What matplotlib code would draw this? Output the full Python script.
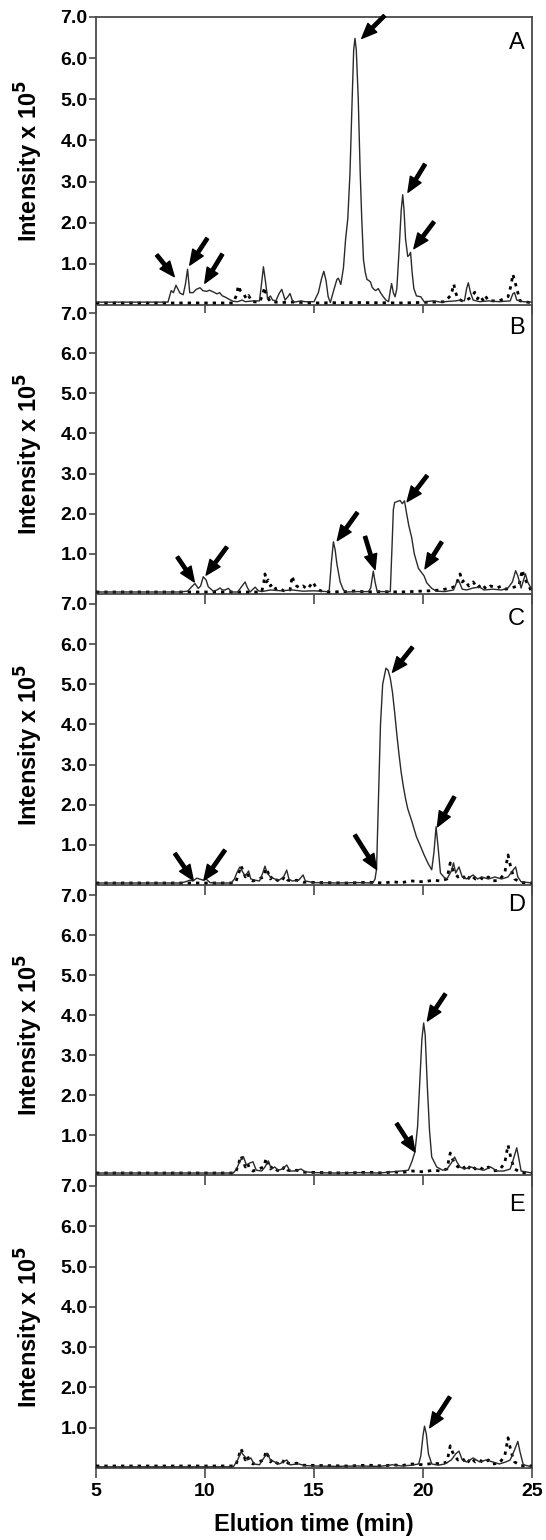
import matplotlib
matplotlib.use("Agg")
import matplotlib.pyplot as plt

plt.rcParams['font.family'] = ['Liberation Sans', 'DejaVu Sans']

# ---------------- data ----------------
panel_labels = ["A", "B", "C", "D", "E"]
x_ticks = [5, 10, 15, 20, 25]
y_ticks = [1.0, 2.0, 3.0, 4.0, 5.0, 6.0, 7.0]

a_t = [5.0, 8.3, 8.45, 8.55, 8.67, 8.85, 9.0, 9.1, 9.2, 9.3, 9.45, 9.6, 9.77, 9.9, 10.08, 10.2, 10.37, 10.55,
       10.67, 10.8, 10.9, 11.1, 11.29, 11.5, 11.7, 11.85, 12.2, 12.5, 12.6, 12.68, 12.78, 12.87, 13.0, 13.1,
       13.25, 13.4, 13.52, 13.6, 13.67, 13.8, 13.9, 14.0, 14.1, 14.4, 14.6, 15.0, 15.2, 15.35, 15.45, 15.55,
       15.65, 15.75, 15.9, 16.05, 16.12, 16.23, 16.35, 16.45, 16.55, 16.65, 16.75, 16.82, 16.88, 16.94, 17.03,
       17.12, 17.19, 17.27, 17.35, 17.43, 17.5, 17.59, 17.67, 17.75, 17.83, 17.95, 18.05, 18.15, 18.3, 18.42,
       18.5, 18.56, 18.64, 18.72, 18.8, 18.9, 19.0, 19.07, 19.13, 19.2, 19.3, 19.38, 19.43, 19.5, 19.58, 19.7,
       19.9, 20.05, 20.5, 20.8, 21.2, 21.5, 21.7, 21.9, 22.0, 22.08, 22.18, 22.3, 22.6, 23.0, 23.5, 24.0, 24.12,
       24.2, 24.3, 24.6, 25.0]
a_v = [0.07, 0.07, 0.35, 0.30, 0.48, 0.29, 0.25, 0.50, 0.87, 0.30, 0.30, 0.38, 0.42, 0.35, 0.33, 0.36, 0.32, 0.27,
       0.30, 0.22, 0.20, 0.14, 0.09, 0.08, 0.12, 0.08, 0.10, 0.10, 0.55, 0.93, 0.55, 0.15, 0.22, 0.12,
       0.10, 0.28, 0.38, 0.25, 0.12, 0.20, 0.28, 0.12, 0.07, 0.10, 0.08, 0.08, 0.30, 0.65, 0.82, 0.60,
       0.20, 0.06, 0.35, 0.62, 0.65, 0.50, 0.90, 1.60, 2.10, 3.20, 5.00, 6.20, 6.48, 6.20, 5.00,
       3.20, 2.10, 1.10, 0.80, 0.62, 0.60, 0.56, 0.43, 0.38, 0.35, 0.40, 0.30, 0.22, 0.12, 0.08,
       0.35, 0.52, 0.30, 0.20, 0.40, 1.30, 2.30, 2.68, 2.30, 1.60, 1.18, 1.22, 1.28, 0.80, 0.40, 0.22,
       0.20, 0.08, 0.10, 0.07, 0.09, 0.10, 0.12, 0.10, 0.40, 0.54, 0.30, 0.12, 0.08, 0.10, 0.08, 0.10, 0.27,
       0.30, 0.12, 0.08, 0.07]

a_dot_t = [5.0, 11.3, 11.45, 11.53, 11.62, 11.77, 11.9, 12.0, 12.15, 12.5, 12.65, 12.73, 12.85, 13.0, 13.5, 14.0,
           15.0, 17.0, 19.0, 20.5, 21.0, 21.3, 21.41, 21.5, 21.6, 21.8, 22.0, 22.25, 22.37, 22.5, 22.6, 22.75,
           22.85, 23.0, 23.5, 23.9, 24.05, 24.12, 24.2, 24.3, 24.45, 25.0]
a_dot_v = [0.05, 0.05, 0.25, 0.47, 0.35, 0.27, 0.15, 0.23, 0.08, 0.07, 0.25, 0.43, 0.20, 0.08, 0.06, 0.07,
           0.05, 0.06, 0.05, 0.07, 0.08, 0.25, 0.51, 0.30, 0.15, 0.10, 0.12, 0.20, 0.31, 0.15, 0.23, 0.12,
           0.23, 0.10, 0.10, 0.20, 0.50, 0.75, 0.60, 0.40, 0.10, 0.05]

b_t = [5.0, 8.8, 9.2, 9.39, 9.54, 9.69, 9.8, 9.92, 10.05, 10.15, 10.38, 10.55, 10.69, 10.8, 10.92, 11.07, 11.23,
       11.5, 11.7, 11.84, 11.95, 12.07, 12.3, 12.45, 12.6, 13.0, 13.5, 14.0, 14.5, 15.0, 15.6, 15.7, 15.8, 15.89,
       15.97, 16.05, 16.2, 16.35, 16.5, 17.0, 17.5, 17.6, 17.72, 17.8, 17.9, 18.5, 18.58, 18.64, 18.7, 18.8,
       18.95, 19.05, 19.15, 19.25, 19.35, 19.48, 19.6, 19.79, 19.94, 20.05, 20.17, 20.4, 20.63, 21.0, 21.4,
       21.55, 21.65, 21.8, 22.0, 22.3, 22.6, 22.8, 23.2, 23.6, 23.9, 24.1, 24.25, 24.35, 24.5, 24.7, 24.8, 25.0]
b_v = [0.05, 0.05, 0.07, 0.18, 0.26, 0.14, 0.20, 0.43, 0.35, 0.18, 0.07, 0.10, 0.15, 0.10, 0.10, 0.14, 0.05,
       0.05, 0.20, 0.30, 0.15, 0.05, 0.17, 0.08, 0.06, 0.10, 0.08, 0.10, 0.07, 0.08, 0.06, 0.10, 0.80, 1.30,
       1.10, 0.75, 0.30, 0.10, 0.05, 0.06, 0.06, 0.15, 0.57, 0.30, 0.06, 0.06, 1.20, 2.10, 2.28, 2.30,
       2.33, 2.25, 2.32, 2.00, 1.70, 1.41, 1.00, 0.64, 0.53, 0.45, 0.28, 0.14, 0.07, 0.06, 0.10,
       0.30, 0.32, 0.12, 0.10, 0.15, 0.17, 0.10, 0.12, 0.10, 0.15, 0.30, 0.58, 0.45, 0.15, 0.50, 0.30, 0.10]

b_dot_t = [5.0, 12.6, 12.7, 12.75, 12.82, 12.9, 13.0, 13.1, 13.25, 13.4, 13.6, 13.9, 14.0, 14.08, 14.2, 14.35, 14.5,
           14.7, 14.95, 15.1, 15.3, 15.6, 16.5, 17.0, 17.3, 18.0, 19.0, 20.3, 20.8, 21.3, 21.5, 21.7, 21.8, 21.9,
           22.1, 22.3, 22.5, 22.7, 22.9, 23.1, 23.4, 23.6, 23.8, 24.0, 24.4, 24.55, 24.65, 24.75, 25.0]
b_dot_v = [0.05, 0.05, 0.30, 0.50, 0.30, 0.35, 0.20, 0.25, 0.12, 0.15, 0.08, 0.10, 0.45, 0.30, 0.20, 0.15, 0.20,
           0.12, 0.30, 0.15, 0.08, 0.05, 0.06, 0.08, 0.05, 0.06, 0.05, 0.08, 0.10, 0.15, 0.20, 0.50, 0.30, 0.35,
           0.20, 0.30, 0.15, 0.25, 0.12, 0.20, 0.15, 0.20, 0.12, 0.15, 0.20, 0.60, 0.40, 0.30, 0.05]

c_t = [5.0, 8.9, 9.1, 9.31, 9.45, 9.62, 9.8, 9.92, 10.05, 10.23, 10.5, 11.2, 11.35, 11.45, 11.6, 11.7, 11.85, 12.0,
       12.1, 12.3, 12.5, 12.65, 12.75, 12.85, 13.0, 13.2, 13.4, 13.6, 13.75, 13.85, 14.0, 14.3, 14.5, 14.6, 15.0,
       16.0, 17.0, 17.7, 17.8, 17.87, 17.95, 18.05, 18.15, 18.3, 18.4, 18.5, 18.6, 18.7, 18.8, 18.9, 19.0, 19.1,
       19.2, 19.3, 19.48, 19.7, 19.86, 20.05, 20.24, 20.4, 20.5, 20.6, 20.7, 20.8, 20.97, 21.1, 21.3, 21.4, 21.5,
       21.65, 21.8, 22.0, 22.3, 22.5, 22.7, 23.0, 23.3, 23.6, 23.9, 24.1, 24.25, 24.35, 24.5, 25.0]
c_v = [0.05, 0.05, 0.08, 0.12, 0.10, 0.17, 0.14, 0.12, 0.15, 0.06, 0.05, 0.05, 0.15, 0.29, 0.45, 0.35, 0.22, 0.35,
       0.15, 0.12, 0.10, 0.30, 0.47, 0.30, 0.20, 0.15, 0.12, 0.20, 0.37, 0.15, 0.10, 0.12, 0.25, 0.10, 0.06,
       0.05, 0.06, 0.05, 0.15, 0.40, 2.00, 4.00, 5.00, 5.40, 5.35, 5.15, 4.80, 4.30, 3.75, 3.25, 2.80, 2.45,
       2.15, 1.90, 1.60, 1.20, 1.00, 0.75, 0.53, 0.38, 0.80, 1.45, 0.90, 0.30, 0.19, 0.15, 0.35, 0.55, 0.30,
       0.45, 0.20, 0.15, 0.25, 0.15, 0.20, 0.15, 0.20, 0.15, 0.20, 0.35, 0.45, 0.20, 0.08, 0.05]

d_t = [5.0, 11.3, 11.45, 11.6, 11.76, 11.9, 12.05, 12.2, 12.35, 12.6, 12.75, 12.9, 13.05, 13.2, 13.35, 13.55, 13.75,
       13.9, 14.1, 14.4, 14.6, 15.0, 16.0, 17.0, 18.0, 18.6, 19.0, 19.33, 19.5, 19.63, 19.75, 19.85, 19.95, 20.03,
       20.1, 20.2, 20.3, 20.4, 20.63, 20.9, 21.1, 21.3, 21.45, 21.55, 21.7, 21.9, 22.2, 22.5, 22.8, 23.1, 23.4,
       23.7, 24.0, 24.15, 24.3, 24.4, 24.5, 25.0]
d_v = [0.05, 0.05, 0.15, 0.35, 0.46, 0.25, 0.30, 0.33, 0.12, 0.10, 0.20, 0.35, 0.15, 0.20, 0.12, 0.15, 0.25,
       0.10, 0.10, 0.15, 0.08, 0.06, 0.05, 0.06, 0.05, 0.08, 0.10, 0.12, 0.35, 0.58, 1.20, 2.30, 3.40, 3.80,
       3.50, 2.20, 1.10, 0.45, 0.20, 0.12, 0.15, 0.30, 0.45, 0.33, 0.20, 0.15, 0.20, 0.15, 0.12, 0.20, 0.10,
       0.10, 0.15, 0.40, 0.68, 0.40, 0.10, 0.05]

e_t = [5.0, 11.3, 11.5, 11.65, 11.8, 11.95, 12.1, 12.25, 12.5, 12.7, 12.85, 13.0, 13.2, 13.4, 13.6, 13.75, 13.9,
       14.3, 14.6, 15.0, 16.0, 17.0, 18.0, 18.6, 19.0, 19.5, 19.8, 19.9, 20.0, 20.07, 20.15, 20.25, 20.4, 20.7,
       21.0, 21.3, 21.5, 21.65, 21.8, 22.0, 22.3, 22.6, 22.9, 23.2, 23.5, 23.8, 24.0, 24.2, 24.35, 24.45, 24.6,
       25.0]
e_v = [0.03, 0.03, 0.20, 0.40, 0.30, 0.20, 0.25, 0.10, 0.08, 0.25, 0.37, 0.20, 0.15, 0.10, 0.15, 0.20, 0.08,
       0.10, 0.06, 0.05, 0.04, 0.05, 0.04, 0.08, 0.05, 0.07, 0.10, 0.30, 0.80, 1.04, 0.85, 0.35, 0.10, 0.07,
       0.10, 0.20, 0.35, 0.42, 0.20, 0.15, 0.25, 0.15, 0.20, 0.15, 0.10, 0.15, 0.20, 0.45, 0.66, 0.40, 0.08,
       0.03]

cde_dot_t = [5.0, 11.4, 11.55, 11.65, 11.75, 11.85, 11.95, 12.05, 12.2, 12.7, 12.8, 12.9, 13.0, 13.1, 13.3, 13.5,
             13.65, 13.8, 14.0, 14.2, 14.5, 15.5, 16.5, 17.5, 18.2, 18.6, 19.0, 19.5, 20.0, 20.5, 20.8, 21.1,
             21.25, 21.35, 21.45, 21.6, 21.8, 22.0, 22.2, 22.4, 22.6, 22.8, 23.0, 23.2, 23.5, 23.75, 23.9, 24.0,
             24.1, 24.2, 24.5, 25.0]
cde_dot_v = [0.05, 0.05, 0.30, 0.48, 0.35, 0.20, 0.30, 0.15, 0.10, 0.20, 0.42, 0.30, 0.15, 0.22, 0.12, 0.08,
             0.22, 0.12, 0.10, 0.12, 0.07, 0.06, 0.05, 0.07, 0.05, 0.08, 0.06, 0.10, 0.08, 0.12, 0.10, 0.15,
             0.55, 0.40, 0.30, 0.20, 0.25, 0.10, 0.25, 0.15, 0.20, 0.12, 0.20, 0.10, 0.12, 0.30, 0.75, 0.50,
             0.30, 0.15, 0.06, 0.05]

# arrow tips (time, intensity) per panel
a_arrow_t = [8.59, 9.30, 9.99, 17.19, 19.31, 19.58]
a_arrow_v = [0.69, 0.97, 0.53, 6.48, 2.74, 1.37]
b_arrow_t = [9.51, 10.05, 16.07, 17.80, 19.27, 20.09]
b_arrow_v = [0.30, 0.47, 1.33, 0.61, 2.30, 0.63]
c_arrow_t = [9.46, 9.95, 17.87, 18.60, 20.66]
c_arrow_v = [0.12, 0.12, 0.39, 5.30, 1.45]
d_arrow_t = [19.63, 20.20]
d_arrow_v = [0.58, 3.85]
e_arrow_t = [20.31]
e_arrow_v = [1.00]

# ---------------- style / layout ----------------
# arrow tail offsets (pixels, right/up) relative to tip
a_arrow_off = [(-17.5, 21.7), (17.5, 26.7), (17.5, 29), (22.7, 22.7), (17, 28), (20, 26.7)]
b_arrow_off = [(-17, 25), (20.7, 28), (20, 28), (-10, 33), (20, 26), (16.7, 26.7)]
c_arrow_off = [(-18.3, 26.7), (21, 30), (-21.7, 34.3), (20, 25), (17, 30)]
d_arrow_off = [(-18.3, 28.3), (18, 27)]
e_arrow_off = [(20, 30.7)]

W, H = 546, 1540
X_LEFT, X_RIGHT = 96, 532
tops = [17, 313, 604, 895, 1186]        # pixel row of 7.0
bases = [305, 594, 885, 1175, 1468]      # pixel row of 0
letter_dy = [26, 15, 15, 10, 19]

solid_series = [(a_t, a_v), (b_t, b_v), (c_t, c_v), (d_t, d_v), (e_t, e_v)]
dot_series = [(a_dot_t, a_dot_v), (b_dot_t, b_dot_v), (cde_dot_t, cde_dot_v),
              (cde_dot_t, cde_dot_v), (cde_dot_t, cde_dot_v)]
arrows = [(a_arrow_t, a_arrow_v, a_arrow_off), (b_arrow_t, b_arrow_v, b_arrow_off),
          (c_arrow_t, c_arrow_v, c_arrow_off), (d_arrow_t, d_arrow_v, d_arrow_off),
          (e_arrow_t, e_arrow_v, e_arrow_off)]

spine_col = '#4a4a4a'
fig = plt.figure(figsize=(W / 100, H / 100), dpi=100)

for i in range(5):
    top = tops[i]
    base = bases[i]
    bottom_px = tops[i + 1] if i < 4 else bases[i]
    ppu = (base - top) / 7.0
    ylo = -(bottom_px - base) / ppu
    ax = fig.add_axes([X_LEFT / W, 1 - bottom_px / H, (X_RIGHT - X_LEFT) / W, (bottom_px - top) / H])
    ax.set_xlim(5, 25)
    ax.set_ylim(ylo, 7.0)

    ts, vs = dot_series[i]
    ax.plot(ts, vs, color='black', lw=2.0, linestyle=(0, (1.2, 1.8)), zorder=3)
    ts, vs = solid_series[i]
    ax.plot(ts, vs, color='#2a2a2a', lw=1.0, zorder=4)

    for spn in ['left', 'right', 'bottom', 'top']:
        ax.spines[spn].set_color(spine_col)
        ax.spines[spn].set_linewidth(1.3)
    ax.spines['top'].set_visible(i == 0)
    ax.spines['bottom'].set_position(('data', 0))

    ax.set_yticks(y_ticks)
    ax.set_yticklabels([f"{v:.1f}" for v in y_ticks], fontsize=14, fontweight='bold')
    ax.set_xticks(x_ticks)
    if i == 4:
        ax.set_xticklabels([str(v) for v in x_ticks], fontsize=14, fontweight='bold')
        ax.set_xlabel("Elution time (min)", fontsize=17, fontweight='bold', labelpad=9)
    else:
        ax.set_xticklabels([])
    ax.tick_params(axis='y', direction='out', length=5, width=1.2, color=spine_col, pad=1)
    ax.tick_params(axis='x', direction='out', length=7, width=1.2, color=spine_col, pad=4)

    ax.set_ylabel(r"Intensity x 10$^{\mathbf{5}}$", fontsize=17, fontweight='bold', va='center')
    yfrac = (3.5 - ylo) / (7.0 - ylo)
    ax.yaxis.set_label_coords((29 - X_LEFT) / (X_RIGHT - X_LEFT), yfrac)

    ax.text(1 - 7 / (X_RIGHT - X_LEFT), 1 - letter_dy[i] / (bottom_px - top), panel_labels[i],
            transform=ax.transAxes, ha='right', va='center', fontsize=17)

    at, av, offs = arrows[i]
    for t, v, (dx, dy) in zip(at, av, offs):
        ax.annotate("", xy=(t, v), xytext=(dx * 0.72, dy * 0.72), textcoords='offset points',
                    annotation_clip=False,
                    arrowprops=dict(arrowstyle='simple,head_length=0.9,head_width=0.75,tail_width=0.2',
                                    mutation_scale=12, color='black', shrinkA=0, shrinkB=0), zorder=6)

fig.savefig("out.png", dpi=100)
